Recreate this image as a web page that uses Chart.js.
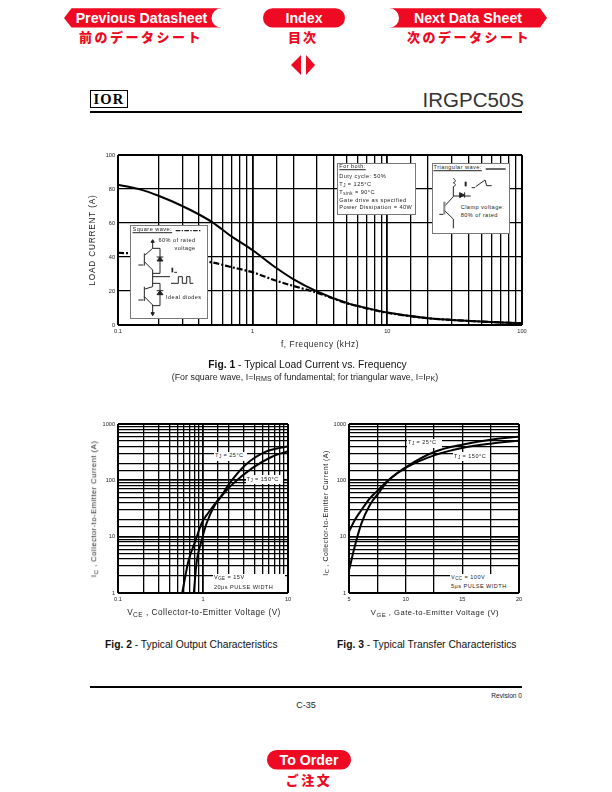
<!DOCTYPE html>
<html lang="en">
<head>
<meta charset="utf-8">
<title>IRGPC50S</title>
<script src="https://cdn.jsdelivr.net/npm/chart.js@4"></script>
<style>
html,body{margin:0;padding:0;background:#fff;}
body{width:612px;height:792px;position:relative;overflow:hidden;font-family:"Liberation Sans",Arial,sans-serif;color:#111;}
canvas{position:absolute;}
svg{position:absolute;overflow:visible;}
.t{position:absolute;white-space:nowrap;line-height:1;transform:translateY(-50%);}
.c{transform:translate(-50%,-50%);}
.r{transform:translate(-100%,-50%);}
.rot{position:absolute;white-space:nowrap;line-height:1;transform:translate(-50%,-50%) rotate(-90deg);}
.box{position:absolute;background:#fff;border:1.2px solid #777;box-sizing:border-box;}
.wbg{position:absolute;background:#fff;}
.rule{position:absolute;background:#000;height:2px;left:90px;width:432px;}
.jp{font-family:"Noto Sans CJK JP";font-weight:900;color:#ee0a22;}
.btn{color:#fff;font-weight:bold;}
.s5{font-size:5.6px;letter-spacing:.45px;color:#222;}
.a{font-size:7.6px;letter-spacing:.5px;color:#222;}
sub{font-size:.8em;line-height:0;vertical-align:-.25em;}
</style>
</head>
<body>
<!-- page furniture -->
<svg style="left:0;top:0" width="612" height="792">
  <polygon fill="#ee0a22" points="64,18 71.5,8.3 221,8.3 221,27.5 71.5,27.5"/>
  <ellipse fill="#fff" cx="222" cy="18" rx="10.5" ry="10"/>
  <rect fill="#ee0a22" x="263" y="8.3" width="82" height="19.2" rx="9.6"/>
  <polygon fill="#ee0a22" points="389,8.3 540,8.3 547,18 540,27.5 389,27.5"/>
  <ellipse fill="#fff" cx="389" cy="18" rx="10" ry="10"/>
  <polygon fill="#ee0a22" points="301,55 301,75 291,65"/>
  <polygon fill="#ee0a22" points="306,55 306,75 315,65"/>
  <rect fill="#ee0a22" x="267" y="750" width="84" height="19.5" rx="9.7"/>
</svg>
<div class="t c btn" style="left:141.5px;top:18px;font-size:14.2px">Previous Datasheet</div>
<div class="t c btn" style="left:304px;top:18px;font-size:14.2px">Index</div>
<div class="t c btn" style="left:468px;top:18px;font-size:14.2px">Next Data Sheet</div>
<div class="t c jp" style="left:141px;top:36px;font-size:13px;letter-spacing:2.5px">前のデータシート</div>
<div class="t c jp" style="left:303px;top:36px;font-size:13px;letter-spacing:2px">目次</div>
<div class="t c jp" style="left:469px;top:36px;font-size:13px;letter-spacing:2.5px">次のデータシート</div>
<div style="position:absolute;left:90px;top:90px;width:38px;height:18px;border:1.2px solid #000;box-sizing:border-box"></div>
<div class="t c" style="left:109px;top:99px;font-family:'Liberation Serif';font-weight:bold;font-size:14.5px;letter-spacing:1.2px;color:#000">IOR</div>
<div class="t r" style="left:524px;top:100px;font-size:20.5px;color:#333">IRGPC50S</div>
<div class="rule" style="top:110.5px"></div>

<canvas id="fig1" width="450" height="200" style="left:85px;top:145px"></canvas>
<canvas id="fig2" width="205" height="195" style="left:90px;top:414px"></canvas>
<canvas id="fig3" width="205" height="195" style="left:321px;top:414px"></canvas>

<!-- Fig 1 axis titles -->
<div class="rot" style="left:93px;top:240px;font-size:8.2px;letter-spacing:.85px;color:#222">LOAD CURRENT (A)</div>
<div class="t c" style="left:320px;top:345px;font-size:8.2px;letter-spacing:.6px;color:#222">f, Frequency (kHz)</div>

<!-- Square wave box -->
<div class="box" style="left:130px;top:225px;width:78px;height:94px"></div>
<div class="t s5" style="left:132.5px;top:230px;text-decoration:underline">Square wave:</div>
<div class="t c s5" style="left:177px;top:241px">60% of rated</div>
<div class="t c s5" style="left:185px;top:249px">voltage</div>
<div class="t s5" style="left:166px;top:298px">Ideal diodes</div>
<svg style="left:85px;top:145px" width="225" height="210" viewBox="0 0 675 630" fill="none" stroke="#222" stroke-width="3">
  <path d="M272 257H350" stroke-width="4" stroke-dasharray="14 4 4 4"/>
  <path d="M203 288V310L180 330M178 325V362" /><path d="M178 350L203 375V425L180 432M178 425V468M178 455L203 480V510"/>
  <path d="M160 360H175M160 465H175M203 310H225V385H203M203 415H225V482H203M203 395H255"/>
  <path d="M258 415H280V395H292V415H305V395H315V415H325"/>
  <path d="M262 368V382" stroke-width="5"/><path d="M268 382H276"/>
  <path fill="#222" d="M216 348H234L225 336ZM216 449H234L225 437ZM198 292H208L203 284ZM198 503H208L203 512Z"/>
  <path d="M215 336H235M215 437H235"/>
</svg>

<!-- For both box -->
<div class="box" style="left:337px;top:163px;width:79px;height:52px"></div>
<div class="t s5" style="left:339.3px;top:167px;text-decoration:underline">For both:</div>
<div class="t s5" style="left:339.3px;top:177px">Duty cycle: 50%</div>
<div class="t s5" style="left:339.3px;top:184.5px">T<sub>J</sub> = 125°C</div>
<div class="t s5" style="left:339.3px;top:192.5px">T<sub>sink</sub> = 90°C</div>
<div class="t s5" style="left:339.3px;top:200.7px">Gate drive as specified</div>
<div class="t s5" style="left:339.3px;top:208.3px">Power Dissipation = 40W</div>

<!-- Triangular wave box -->
<div class="box" style="left:432px;top:163px;width:78px;height:71px"></div>
<div class="t s5" style="left:433.5px;top:168px;text-decoration:underline">Triangular wave:</div>
<div class="t s5" style="left:460.7px;top:207.7px">Clamp voltage:</div>
<div class="t s5" style="left:460.7px;top:216.3px">80% of rated</div>
<svg style="left:310px;top:145px" width="225" height="210" viewBox="0 0 675 630" fill="none" stroke="#222" stroke-width="3">
  <path d="M527 72H587" stroke-width="4"/>
  <path d="M430 100C438 105 438 110 430 113C438 117 438 122 430 125M430 125V155M430 153H482"/>
  <path d="M405 182L430 155M405 198L430 222V250M388 208H400"/>
  <path d="M403 170V208" stroke="#888" stroke-width="6"/>
  <path fill="#222" d="M449 143V158L463 150ZM464 142V158"/>
  <path d="M467 110V124" stroke-width="6"/><path d="M485 128H495M497 125L525 105L530 122H545"/>
</svg>

<!-- Fig 2 labels -->
<div class="wbg" style="left:214px;top:452px;width:33px;height:9px"></div>
<div class="t s5" style="left:215px;top:456px">T<sub>J</sub> = 25°C</div>
<div class="wbg" style="left:246px;top:475px;width:37px;height:9px"></div>
<div class="t s5" style="left:246.5px;top:479.5px">T<sub>J</sub> = 150°C</div>
<div class="wbg" style="left:213px;top:574px;width:72px;height:18px"></div>
<div class="t s5" style="left:214px;top:578px">V<sub>GE</sub> = 15V</div>
<div class="t s5" style="left:214px;top:588px">20µs PULSE WIDTH</div>
<div class="rot a" style="left:94px;top:509px">I<sub>C</sub> , Collector-to-Emitter Current (A)</div>
<div class="t c a" style="left:204px;top:613px;font-size:8.2px">V<sub>CE</sub> , Collector-to-Emitter Voltage (V)</div>

<!-- Fig 3 labels -->
<div class="wbg" style="left:407px;top:439px;width:35px;height:9px"></div>
<div class="t s5" style="left:408px;top:443px">T<sub>J</sub> = 25°C</div>
<div class="wbg" style="left:453px;top:452px;width:37px;height:9px"></div>
<div class="t s5" style="left:454px;top:456.7px">T<sub>J</sub> = 150°C</div>
<div class="wbg" style="left:450px;top:574px;width:68px;height:18px"></div>
<div class="t s5" style="left:451px;top:578px">V<sub>CC</sub> = 100V</div>
<div class="t s5" style="left:451px;top:587px">5µs PULSE WIDTH</div>
<div class="rot a" style="left:325px;top:513px;font-size:7px;letter-spacing:.45px">I<sub>C</sub> , Collector-to-Emitter Current (A)</div>
<div class="t c a" style="left:435px;top:613px">V<sub>GE</sub> , Gate-to-Emitter Voltage (V)</div>

<!-- captions -->
<div class="t c" style="left:307.5px;top:365px;font-size:10.3px"><b>Fig. 1</b> - Typical Load Current vs. Frequency</div>
<div class="t c" style="left:305px;top:377px;font-size:8.9px;color:#222">(For square wave, I=I<sub>RMS</sub> of fundamental; for triangular wave, I=I<sub>PK</sub>)</div>
<div class="t" style="left:105px;top:645px;font-size:10.3px"><b>Fig. 2</b> - Typical Output Characteristics</div>
<div class="t" style="left:337px;top:645px;font-size:10.3px"><b>Fig. 3</b> - Typical Transfer Characteristics</div>
<div class="rule" style="top:686px"></div>
<div class="t r" style="left:522px;top:696px;font-size:6.6px;color:#222">Revision 0</div>
<div class="t c" style="left:306px;top:705px;font-size:9px;color:#222">C-35</div>
<div class="t c btn" style="left:309px;top:760px;font-size:14.2px">To Order</div>
<div class="t c jp" style="left:309px;top:779px;font-size:13px;letter-spacing:2.5px">ご注文</div>

<script>
// Fig. 1
const fig1Freq = [0.1,0.15,0.2,0.3,0.4,0.5,0.7,1,1.5,2,3,5,7,10,20,30,50,70,100];
const fig1Triangular = [82.5,79.5,76,70,65,60.5,52,44,33.5,27,19.8,13,10,7.3,4,3,2,1.5,1];
const fig1Square = [42.5,41.8,41,39.5,38,36.8,34,31,26,23,19,12.8,9.8,7.2,4,3,2,1.5,1];
const fig1XLabels = [0.1,1,10,100];

// Fig. 2
const fig2Vce25 = [0.78,0.843,0.966,1.105,1.38,1.6,1.99,3.13,5.4,10];
const fig2Ic25 = [1,3.6,8.7,17.5,36.5,49,83,186,321,405];
const fig2Vce150 = [0.57,0.671,0.82,0.966,1.146,1.45,1.82,2.18,3.76,6.47,10];
const fig2Ic150 = [1,3.6,8.7,17.5,26,42,62,83,163,262,330];
const fig2XLabels = [0.1,1,10];

// Fig. 3
const fig3Vge25 = [5,5.5,6.09,6.83,7.56,8.45,10.07,12.57,15.08,17.64,20];
const fig3Ic25 = [2.5,6.6,17,36,58,98,174,322,434,533,594];
const fig3Vge150 = [5,5.5,6.09,6.83,7.56,8.45,10.07,12.57,15.08,17.64,20];
const fig3Ic150 = [12.2,19.6,29.5,47.6,67,100,169,280,379,452,505];
const logYLabels = [1,10,100,1000];
const fig3XLabels = [5,10,15,20];

const pts = (xs, ys) => xs.map((x, i) => ({x, y: ys[i]}));
const near = (list, v) => list.some(l => Math.abs(v / l - 1) < 1e-6);
const tickFont = {family: "'Liberation Sans'", size: 5.6};
const tickColor = '#222';

function gridOf(isHeavy) {
  return {
    color: '#000',
    drawTicks: false,
    lineWidth: c => {
      const n = c.scale.ticks.length;
      if (c.index === 0 || c.index === n - 1) return 2;
      return isHeavy(c.tick.value) ? 1.8 : 1.3;
    }
  };
}
function line(data, opts) {
  return Object.assign({data, borderColor: '#000', borderWidth: 2, pointRadius: 0,
    cubicInterpolationMode: 'monotone', fill: false}, opts || {});
}
function make(id, datasets, xOpt, yOpt, box) {
  new Chart(document.getElementById(id), {
    type: 'line',
    data: {datasets},
    options: {
      responsive: false, animation: false, events: [],
      layout: {padding: {top: box.top, right: box.right, left: 0, bottom: 0}},
      plugins: {legend: {display: false}, title: {display: false}, tooltip: {enabled: false}},
      scales: {
        x: Object.assign({border: {display: false}, afterFit: s => { s.height = box.bottom; }}, xOpt),
        y: Object.assign({border: {display: false}, afterFit: s => { s.width = box.left; }}, yOpt)
      }
    }
  });
}
const logTicks = labels => ({
  font: tickFont, color: tickColor, autoSkip: false, maxRotation: 0, padding: 3,
  callback: v => near(labels, v) ? String(v) : ''
});

make('fig1',
  [line(pts(fig1Freq, fig1Square), {borderDash: [6, 2, 2, 2], borderWidth: 2.2}),
   line(pts(fig1Freq, fig1Triangular))],
  {type: 'logarithmic', min: 0.1, max: 100, ticks: logTicks(fig1XLabels),
   grid: gridOf(v => near(fig1XLabels, v))},
  {type: 'linear', min: 0, max: 100,
   ticks: {stepSize: 20, font: tickFont, color: tickColor, padding: 3},
   grid: gridOf(() => false)},
  {left: 33, right: 13, top: 10, bottom: 20});

make('fig2',
  [line(pts(fig2Vce25, fig2Ic25)), line(pts(fig2Vce150, fig2Ic150))],
  {type: 'logarithmic', min: 0.1, max: 10, ticks: logTicks(fig2XLabels),
   grid: gridOf(v => near(fig2XLabels, v))},
  {type: 'logarithmic', min: 1, max: 1000, ticks: logTicks(logYLabels),
   grid: gridOf(v => near(logYLabels, v))},
  {left: 28, right: 7, top: 10, bottom: 16});

make('fig3',
  [line(pts(fig3Vge25, fig3Ic25)), line(pts(fig3Vge150, fig3Ic150))],
  {type: 'linear', min: 5, max: 20,
   ticks: {stepSize: 2.5, font: tickFont, color: tickColor, autoSkip: false, maxRotation: 0, padding: 3,
     callback: v => fig3XLabels.includes(v) ? String(v) : ''},
   grid: gridOf(() => false)},
  {type: 'logarithmic', min: 1, max: 1000, ticks: logTicks(logYLabels),
   grid: gridOf(v => near(logYLabels, v))},
  {left: 28, right: 7, top: 10, bottom: 16});
</script>
</body>
</html>
